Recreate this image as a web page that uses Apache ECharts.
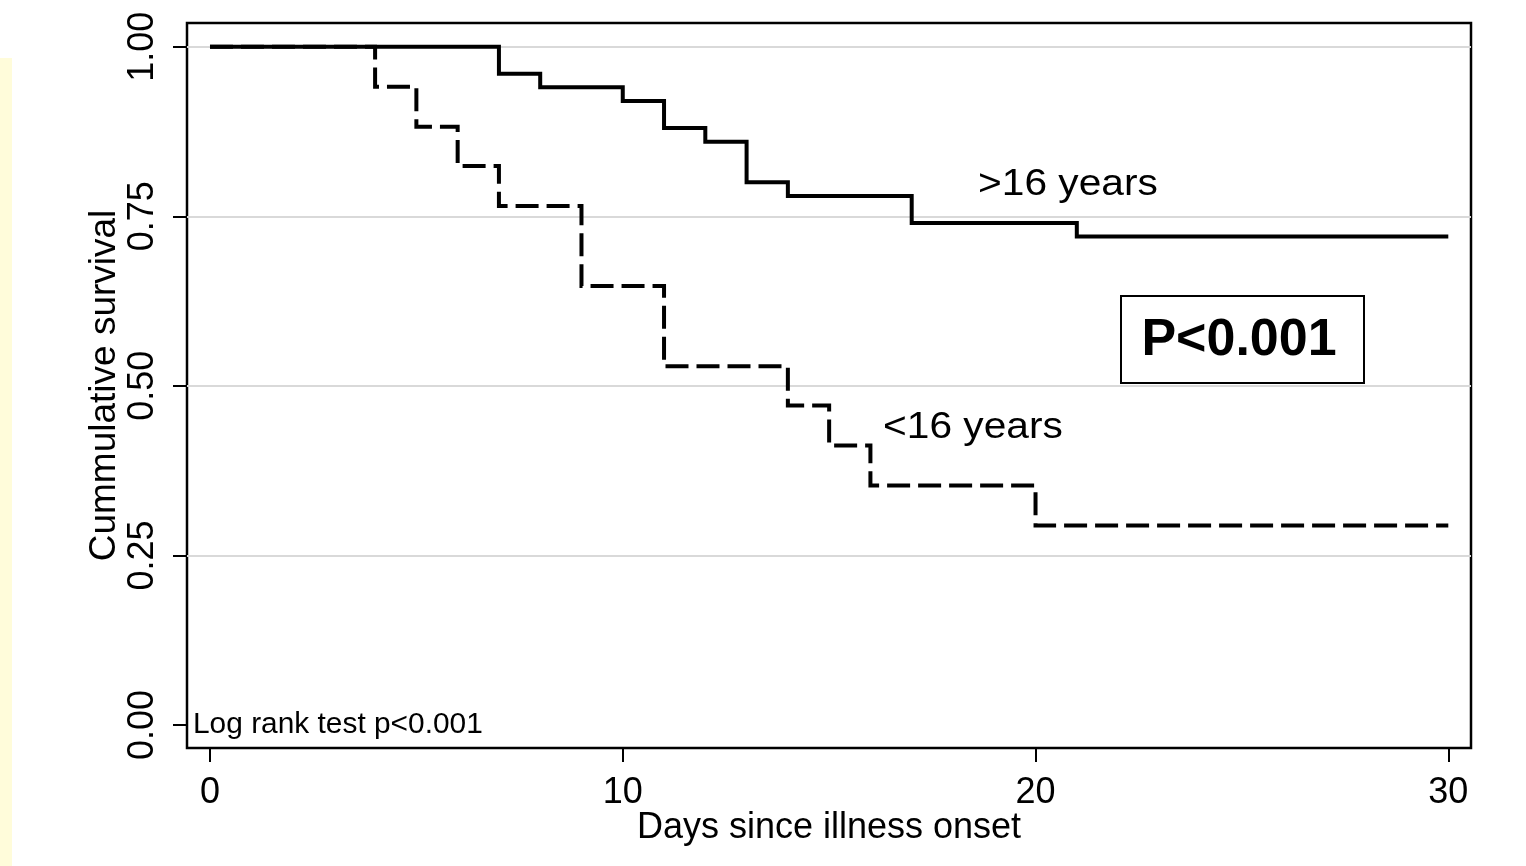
<!DOCTYPE html>
<html>
<head>
<meta charset="utf-8">
<script src="https://cdn.jsdelivr.net/npm/echarts@6/dist/echarts.min.js"></script>
<style>
html,body{margin:0;padding:0;background:#fff;}
#chart{width:1526px;height:866px;}
</style>
</head>
<body>
<div id="chart"></div>
<script>
// Kaplan-Meier step data (time in days, cumulative survival)
const daysOver16 = [0, 7, 8, 10, 11, 12, 13, 14, 17, 21, 30];
const survOver16 = [1.00, 0.96, 0.94, 0.92, 0.88, 0.86, 0.80, 0.78, 0.74, 0.72, 0.72];
const daysUnder16 = [0, 4, 5, 6, 7, 9, 11, 14, 15, 16, 20, 30];
const survUnder16 = [1.00, 0.941, 0.882, 0.824, 0.765, 0.647, 0.529, 0.471, 0.412, 0.353, 0.294, 0.294];
const xTicks = [0, 10, 20, 30];
const yTicks = [0, 0.25, 0.5, 0.75, 1.0];
const yGridVals = [0.25, 0.5, 0.75, 1.0];
const seriesNames = ['>16 years', '<16 years'];

const FONT = '"Liberation Sans", Arial, Helvetica, sans-serif';
const chart = echarts.init(document.getElementById('chart'), null, {renderer: 'canvas'});

function pairs(xs, ys) { return xs.map((x, i) => [x, ys[i]]); }

const option = {
  backgroundColor: '#ffffff',
  animation: false,
  grid: {
    left: 187, right: 55, top: 23, bottom: 118,
    show: true, borderColor: '#000', borderWidth: 2.5, backgroundColor: 'transparent',
    containLabel: false
  },
  xAxis: {
    type: 'value', min: -0.557, max: 30.55,
    name: 'Days since illness onset', nameLocation: 'middle', nameGap: 62, nameMoveOverlap: false,
    nameTextStyle: {fontFamily: FONT, fontSize: 36, color: '#000'},
    axisLine: {show: false, onZero: false},
    axisTick: {show: true, inside: false, customValues: xTicks, length: 14, lineStyle: {color: '#000', width: 2}},
    axisLabel: {customValues: xTicks, fontFamily: FONT, fontSize: 36, color: '#000', margin: 27},
    splitLine: {show: false}
  },
  yAxis: {
    type: 'value', min: -0.0339, max: 1.0349,
    name: 'Cummulative survival', nameLocation: 'middle', nameGap: 64, nameRotate: 90, nameMoveOverlap: false,
    nameTextStyle: {fontFamily: FONT, fontSize: 37, color: '#000'},
    axisLine: {show: false, onZero: false},
    axisTick: {show: true, inside: false, customValues: yTicks, length: 14, lineStyle: {color: '#000', width: 2}},
    axisLabel: {customValues: yTicks, rotate: 90, fontFamily: FONT, fontSize: 36, color: '#000', margin: 26,
      formatter: v => v.toFixed(2)},
    splitLine: {show: false}
  },
  series: [
    {
      type: 'line', data: [], z: 1, silent: true,
      markLine: {
        silent: true, symbol: 'none', animation: false, z: 1,
        label: {show: false},
        lineStyle: {color: '#d9d9d9', width: 2, type: 'solid'},
        data: yGridVals.map(v => ({yAxis: v}))
      }
    },
    {
      name: seriesNames[1], type: 'line', step: 'end', z: 3,
      data: pairs(daysUnder16, survUnder16),
      showSymbol: false, symbol: 'none',
      lineStyle: {color: '#000', width: 4, type: [23, 8], cap: 'butt', join: 'miter'}
    },
    {
      name: seriesNames[0], type: 'line', step: 'end', z: 4,
      data: pairs(daysOver16, survOver16),
      showSymbol: false, symbol: 'none',
      lineStyle: {color: '#000', width: 4, type: 'solid', join: 'miter'}
    }
  ],
  graphic: [
    {type: 'rect', shape: {x: 0, y: 58, width: 12, height: 808}, style: {fill: '#FFFCDA'}, silent: true},
    {type: 'text', x: 978, y: 184.5, scaleX: 1.1,
      style: {text: seriesNames[0], x: 0, y: 0, fontFamily: FONT, fontSize: 37, fill: '#000', align: 'left', verticalAlign: 'middle'}},
    {type: 'text', x: 883, y: 428, scaleX: 1.1,
      style: {text: seriesNames[1], x: 0, y: 0, fontFamily: FONT, fontSize: 37, fill: '#000', align: 'left', verticalAlign: 'middle'}},
    {type: 'rect', shape: {x: 1121, y: 296, width: 243, height: 87},
      style: {fill: '#fff', stroke: '#000', lineWidth: 2}, z: 10},
    {type: 'text', x: 1239, y: 341, z: 11,
      style: {text: 'P<0.001', x: 0, y: 0, fontFamily: FONT, fontSize: 52, fontWeight: 'bold', fill: '#000', align: 'center', verticalAlign: 'middle'}},
    {type: 'text', x: 193, y: 725, scaleX: 1.03,
      style: {text: 'Log rank test p<0.001', x: 0, y: 0, fontFamily: FONT, fontSize: 29, fill: '#000', align: 'left', verticalAlign: 'middle'}}
  ]
};
chart.setOption(option);
</script>
</body>
</html>
